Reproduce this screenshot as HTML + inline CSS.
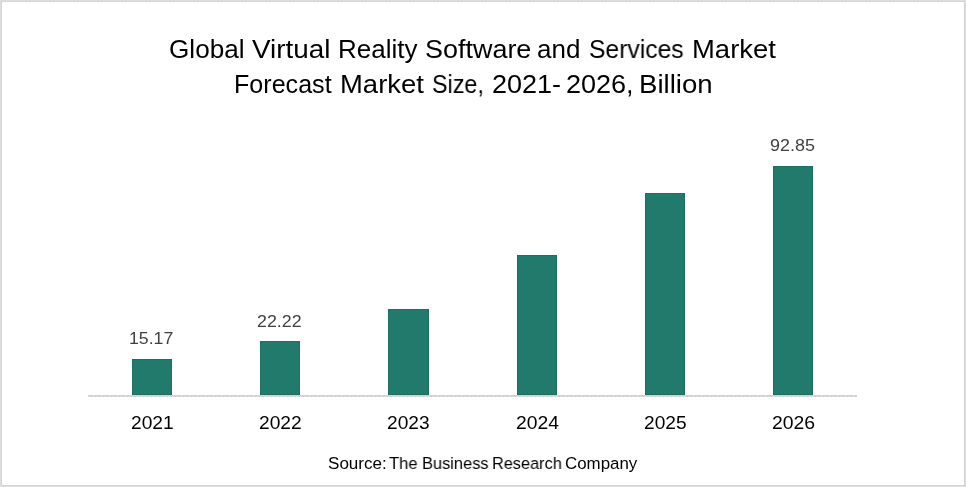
<!DOCTYPE html>
<html>
<head>
<meta charset="utf-8">
<style>
html,body{margin:0;padding:0;}
body{width:966px;height:487px;position:relative;overflow:hidden;background:#fff;font-family:"Liberation Sans",sans-serif;}
.frame{position:absolute;left:0;top:0;width:966px;height:487px;box-sizing:border-box;border:1px solid #dedede;}
.bt{position:absolute;left:1px;top:1px;width:964px;height:1px;background:repeating-linear-gradient(90deg,#dcdcdc 0 1px,#c9c9c9 1px 2px,#dcdcdc 2px 3px);}
.bb{position:absolute;left:1px;top:485px;width:964px;height:1px;background:repeating-linear-gradient(90deg,#cbcbcb 0 1px,#dcdcdc 1px 2px);}
.bl{position:absolute;left:1px;top:1px;width:1px;height:485px;background:repeating-linear-gradient(180deg,#dcdcdc 0 1px,#cbcbcb 1px 2px);}
.br{position:absolute;left:964px;top:1px;width:1px;height:485px;background:repeating-linear-gradient(180deg,#cbcbcb 0 1px,#dcdcdc 1px 2px);}
.t{position:absolute;white-space:nowrap;line-height:1;transform-origin:0 0;will-change:transform;}
.bar{position:absolute;width:40px;background:#217a6b;box-sizing:border-box;border:1px solid #1b7060;}
.axis{position:absolute;left:88px;top:395px;width:769px;height:1px;background:repeating-linear-gradient(90deg,#cbcbcb 0 1px,#dadada 1px 2px);}
.axis2{position:absolute;left:88px;top:396px;width:769px;height:1px;background:repeating-linear-gradient(90deg,#dcdcdc 0 3px,#c6c6c6 3px 4px);}
</style>
</head>
<body>
<div class="frame"></div>
<div class="bt"></div><div class="bb"></div><div class="bl"></div><div class="br"></div>
<div class="bar" style="left:132px;top:359px;height:36px;width:40px"></div>
<div class="bar" style="left:260px;top:341px;height:54px;width:40px"></div>
<div class="bar" style="left:388px;top:309px;height:86px;width:41px"></div>
<div class="bar" style="left:517px;top:255px;height:140px;width:40px"></div>
<div class="bar" style="left:645px;top:193px;height:202px;width:40px"></div>
<div class="bar" style="left:773px;top:166px;height:229px;width:40px"></div>
<div class="axis"></div><div class="axis2"></div>
<span class="t" style="left:168.89px;top:36.66px;font-size:24.9px;color:#000;transform:scaleX(1.0502)">Global</span>
<span class="t" style="left:252.16px;top:36.66px;font-size:24.9px;color:#000;transform:scaleX(1.1192)">Virtual</span>
<span class="t" style="left:338.25px;top:36.66px;font-size:24.9px;color:#000;transform:scaleX(1.0444)">Reality</span>
<span class="t" style="left:424.79px;top:36.66px;font-size:24.9px;color:#000;transform:scaleX(1.0827)">Software</span>
<span class="t" style="left:537.20px;top:36.66px;font-size:24.9px;color:#000;transform:scaleX(1.0435)">and</span>
<span class="t" style="left:588.69px;top:36.66px;font-size:24.9px;color:#000;transform:scaleX(0.9910)">Services</span>
<span class="t" style="left:692.23px;top:36.66px;font-size:24.9px;color:#000;transform:scaleX(1.1030)">Market</span>
<span class="t" style="left:234.43px;top:71.76px;font-size:24.9px;color:#000;transform:scaleX(1.0082)">Forecast</span>
<span class="t" style="left:340.13px;top:71.76px;font-size:24.9px;color:#000;transform:scaleX(1.1030)">Market</span>
<span class="t" style="left:431.75px;top:71.76px;font-size:24.9px;color:#000;transform:scaleX(0.9369)">Size,</span>
<span class="t" style="left:492.15px;top:71.76px;font-size:24.9px;color:#000;transform:scaleX(1.0845)">2021-</span>
<span class="t" style="left:566.25px;top:71.76px;font-size:24.9px;color:#000;transform:scaleX(1.0845)">2026,</span>
<span class="t" style="left:639.42px;top:71.76px;font-size:24.9px;color:#000;transform:scaleX(1.1092)">Billion</span>
<span class="t" style="left:129.37px;top:330.20px;font-size:17.4px;color:#404040;transform:scaleX(1.0177)">15.17</span>
<span class="t" style="left:257.11px;top:313.30px;font-size:17.4px;color:#404040;transform:scaleX(1.0238)">22.22</span>
<span class="t" style="left:769.85px;top:137.40px;font-size:17.4px;color:#404040;transform:scaleX(1.0315)">92.85</span>
<span class="t" style="left:131.04px;top:414.41px;font-size:18.1px;color:#000;transform:scaleX(1.0608)">2021</span>
<span class="t" style="left:259.04px;top:414.41px;font-size:18.1px;color:#000;transform:scaleX(1.0608)">2022</span>
<span class="t" style="left:387.04px;top:414.41px;font-size:18.1px;color:#000;transform:scaleX(1.0583)">2023</span>
<span class="t" style="left:516.03px;top:414.41px;font-size:18.1px;color:#000;transform:scaleX(1.0663)">2024</span>
<span class="t" style="left:644.04px;top:414.41px;font-size:18.1px;color:#000;transform:scaleX(1.0570)">2025</span>
<span class="t" style="left:772.03px;top:414.41px;font-size:18.1px;color:#000;transform:scaleX(1.0713)">2026</span>
<span class="t" style="left:327.63px;top:456.32px;font-size:16.9px;color:#000;transform:scaleX(1.0100)">Source:</span>
<span class="t" style="left:388.53px;top:456.32px;font-size:16.9px;color:#000;transform:scaleX(0.9796)">The</span>
<span class="t" style="left:422.05px;top:456.32px;font-size:16.9px;color:#000;transform:scaleX(0.9717)">Business</span>
<span class="t" style="left:492.05px;top:456.32px;font-size:16.9px;color:#000;transform:scaleX(0.9651)">Research</span>
<span class="t" style="left:565.26px;top:456.32px;font-size:16.9px;color:#000;transform:scaleX(0.9952)">Company</span>
</body>
</html>
